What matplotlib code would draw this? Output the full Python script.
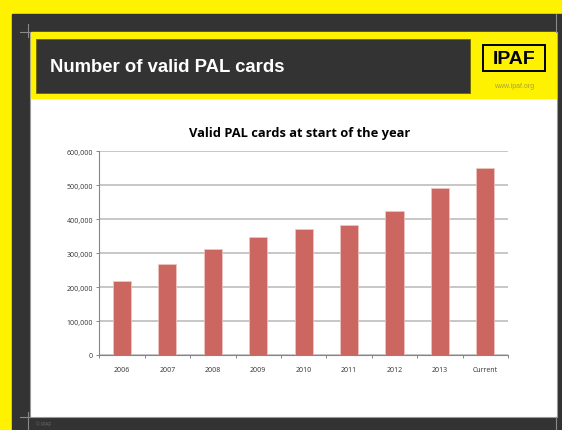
import matplotlib.pyplot as plt
from matplotlib.patches import Rectangle
from matplotlib.lines import Line2D
from matplotlib.ticker import FuncFormatter, FixedLocator

# data
years = ['2006', '2007', '2008', '2009', '2010', '2011', '2012', '2013', 'Current']
cards = [217000, 267000, 312000, 347000, 370000, 384000, 424000, 492000, 551000]
y_ticks = [0, 100000, 200000, 300000, 400000, 500000, 600000]

W, H = 562, 431
YELLOW = '#FFF200'
DARK = '#333333'

fig = plt.figure(figsize=(W / 100, H / 100), dpi=100)
fig.patch.set_facecolor(YELLOW)


def box(x0, y0, x1, y1, **kw):
    # pixel coords measured from the top-left corner
    fig.patches.append(Rectangle((x0 / W, 1 - y1 / H), (x1 - x0) / W, (y1 - y0) / H,
                                 transform=fig.transFigure, figure=fig, **kw))


def line(xs, ys, **kw):
    fig.lines.append(Line2D([x / W for x in xs], [1 - y / H for y in ys],
                            transform=fig.transFigure, figure=fig, **kw))


# slide frame
box(12, 15, 562, 431, color=DARK, zorder=0)
box(30, 33, 557, 418, facecolor='white', edgecolor='#9A9A9A', lw=0.8, zorder=1)
box(31, 33, 556, 99, color=YELLOW, zorder=2)
box(36, 40, 470, 94, facecolor=DARK, edgecolor='#6B6500', lw=0.6, zorder=3)

# crop marks
line([20, 30], [33, 33], color='#8A8A8A', lw=0.8, zorder=4)
line([28, 28], [25, 38], color='#8A8A8A', lw=0.8, zorder=4)
line([20, 30], [418, 418], color='#8A8A8A', lw=0.8, zorder=4)
line([28, 28], [413, 431], color='#8A8A8A', lw=0.8, zorder=4)
line([556, 556], [15, 33], color='#8A8A8A', lw=0.8, zorder=4)
line([556, 556], [418, 431], color='#8A8A8A', lw=0.8, zorder=4)

fig.text(50 / W, 1 - 68 / H, 'Number of valid PAL cards', color='white',
         fontsize=13.3, fontweight='bold', family='Liberation Sans',
         ha='left', va='center', zorder=5)

# logo
box(483, 46, 545, 72, facecolor='none', edgecolor='black', lw=1.4, zorder=5)
fig.text(514 / W, 1 - 59.5 / H, 'IPAF', color='black', fontsize=14,
         fontweight='bold', family='Liberation Sans', ha='center', va='center', zorder=6)
fig.text(514 / W, 1 - 87 / H, 'www.ipaf.org', color='#A8A040', fontsize=5,
         family='Liberation Sans', ha='center', va='center', zorder=6)
fig.text(36 / W, 1 - 425 / H, '© IPAF', color='#6A6A6A', fontsize=3.5,
         family='Liberation Sans', ha='left', va='center', zorder=6)

# chart
ax = fig.add_axes([99.3 / W, 1 - 356 / H, (508 - 99.3) / W, (356 - 152.3) / H], zorder=7)
ax.set_facecolor('none')
x = list(range(len(years)))
ax.bar(x, cards, width=0.4, color='#CC6660', edgecolor='#F0C8C4', linewidth=0.5, zorder=3)

ax.set_xlim(-0.5, len(years) - 0.5)
ax.set_ylim(0, 600000)
ax.yaxis.set_major_locator(FixedLocator(y_ticks))
ax.yaxis.set_major_formatter(FuncFormatter(lambda v, p: f'{int(v):,}'))
ax.set_xticks(x)
ax.set_xticklabels(years)
ax.xaxis.set_minor_locator(FixedLocator([i - 0.5 for i in range(len(years) + 1)]))
ax.tick_params(axis='x', which='major', length=0, labelsize=5, labelcolor='#333333', pad=8)
ax.tick_params(axis='x', which='minor', length=2.5, color='#868686', width=0.7)
ax.tick_params(axis='y', length=2, color='#868686', width=0.7, labelsize=5,
               labelcolor='#333333', pad=2.5)
for lbl in ax.get_xticklabels() + ax.get_yticklabels():
    lbl.set_family('Open Sans')

ax.grid(axis='y', color='#BEBEBE', lw=1.2, zorder=0)
for s in ['top', 'right']:
    ax.spines[s].set_visible(False)
for s in ['left', 'bottom']:
    ax.spines[s].set_color('#868686')
    ax.spines[s].set_linewidth(0.8)

fig.text(300 / W, 1 - 134 / H, 'Valid PAL cards at start of the year', color='black',
         fontsize=9.3, fontweight='bold', family='Open Sans', ha='center', va='center', zorder=8)

fig.savefig('out.png', dpi=100, facecolor=fig.get_facecolor())
